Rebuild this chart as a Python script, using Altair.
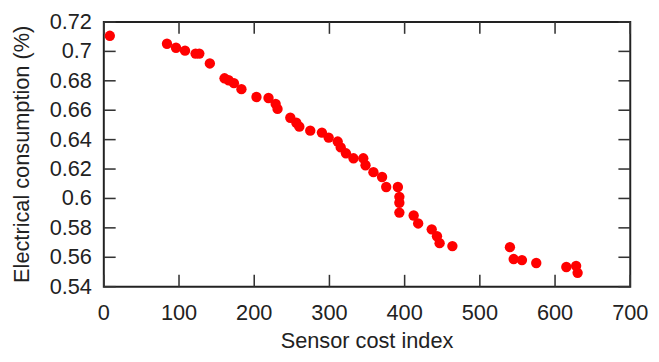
import altair as alt
import pandas as pd

cost = [8, 84, 96, 108, 122, 127, 141, 160.5, 166, 173, 183, 203, 219, 228.5, 231,
        248, 256, 260, 274.5, 290, 299, 311, 315, 322, 332, 345, 348, 358.5, 370, 375.5,
        391, 393, 393, 393, 412, 418, 436, 443, 446.5, 463.5,
        540, 545, 556, 575, 615, 628, 630]
consumption = [0.7106, 0.7052, 0.7025, 0.7005, 0.6985, 0.6985, 0.6918, 0.6817, 0.6804, 0.6784,
               0.6743, 0.6690, 0.6683, 0.6643, 0.6609, 0.6549, 0.6515, 0.6488, 0.6461, 0.6448,
               0.6414, 0.6387, 0.6347, 0.6307, 0.6273, 0.6273, 0.6226, 0.6179, 0.6146, 0.6078,
               0.6078, 0.6011, 0.5971, 0.5904, 0.5884, 0.5830, 0.5790, 0.5743, 0.5696, 0.5676,
               0.5669, 0.5588, 0.5581, 0.5561, 0.5534, 0.5541, 0.5494]
x_ticks = [0, 100, 200, 300, 400, 500, 600, 700]
y_ticks = [0.54, 0.56, 0.58, 0.60, 0.62, 0.64, 0.66, 0.68, 0.70, 0.72]
x_title = "Sensor cost index"
y_title = "Electrical consumption (%)"

df = pd.DataFrame({"cost": cost, "cons": consumption})
xt = pd.DataFrame({"cost": x_ticks, "lab": [f"{v:g}" for v in x_ticks]})
yt = pd.DataFrame({"cons": y_ticks, "lab": [f"{v:g}" for v in y_ticks]})
xtt = pd.DataFrame({"lab": [x_title]})
ytt = pd.DataFrame({"lab": [y_title]})

W, H, TL = 533, 268, 12
FONT = "Liberation Sans"
FS = 22
TXT = "#222222"
TICK = "#333333"
xs = alt.Scale(domain=[0, 700], nice=False, zero=False)
ys = alt.Scale(domain=[0.54, 0.72], nice=False, zero=False)

X = alt.X("cost:Q", scale=xs, axis=None)
Y = alt.Y("cons:Q", scale=ys, axis=None)

pts = alt.Chart(df).mark_circle(size=110, color="#ff0000", opacity=1).encode(x=X, y=Y)

# tick marks as thin filled symbols (vertical / horizontal bars, TL px long)
VSHAPE = "M-0.13,-1L0.13,-1L0.13,1L-0.13,1Z"
HSHAPE = "M-1,-0.13L1,-0.13L1,0.13L-1,0.13Z"
tick_v = dict(shape=VSHAPE, filled=True, size=TL * TL, color=TICK, opacity=1, strokeWidth=0)
tick_h = dict(shape=HSHAPE, filled=True, size=TL * TL, color=TICK, opacity=1, strokeWidth=0)
bottom_ticks = alt.Chart(xt).mark_point(**tick_v).encode(x=X, y=alt.value(H - TL / 2))
top_ticks = alt.Chart(xt).mark_point(**tick_v).encode(x=X, y=alt.value(TL / 2))
left_ticks = alt.Chart(yt).mark_point(**tick_h).encode(y=Y, x=alt.value(TL / 2))
right_ticks = alt.Chart(yt).mark_point(**tick_h).encode(y=Y, x=alt.value(W - TL / 2))

text_style = dict(font=FONT, fontSize=FS, color=TXT)
x_labels = alt.Chart(xt).mark_text(align="center", baseline="middle", **text_style).encode(
    x=X, y=alt.value(H + 27), text="lab:N")
y_labels = alt.Chart(yt).mark_text(align="right", baseline="middle", **text_style).encode(
    y=Y, x=alt.value(-12), text="lab:N")
x_t = alt.Chart(xtt).mark_text(align="center", baseline="middle", **text_style).encode(
    x=alt.value(W / 2), y=alt.value(H + 55), text="lab:N")
y_t = alt.Chart(ytt).mark_text(align="center", baseline="middle", angle=270,
                               **text_style).encode(
    x=alt.value(-83), y=alt.value(H / 2), text="lab:N")

chart = alt.layer(bottom_ticks, top_ticks, left_ticks, right_ticks,
                  x_labels, y_labels, x_t, y_t, pts).properties(
    width=W, height=H,
    padding={"left": 97, "top": 12, "right": 21, "bottom": 66},
    autosize=alt.AutoSizeParams(type="none"),
    background="white",
).configure_view(stroke="#222222", strokeWidth=2)

chart.save("out.html", embed_options={"renderer": "svg", "actions": False})
